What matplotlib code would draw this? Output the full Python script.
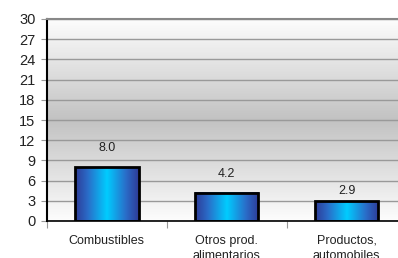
import numpy as np
import matplotlib
matplotlib.use("Agg")
import matplotlib.pyplot as plt
from matplotlib.colors import LinearSegmentedColormap
from matplotlib.patches import Rectangle

categories = ["Combustibles", "Otros prod.\nalimentarios", "Productos,\nautomobiles"]
values = [8.0, 4.2, 2.9]
yticks = [0, 3, 6, 9, 12, 15, 18, 21, 24, 27, 30]

plt.rcParams["font.family"] = ["Liberation Sans Narrow", "Liberation Sans", "DejaVu Sans"]

fig = plt.figure(figsize=(3.98, 2.58), dpi=100)
ax = fig.add_axes([46.7 / 398, 37 / 258, 360 / 398, 202 / 258])

# background: white -> gray -> white (vertical)
bg_cmap = LinearSegmentedColormap.from_list(
    "bg", [(0, "#fdfdfd"), (0.5, "#c2c2c2"), (1, "#fdfdfd")])
grad = np.linspace(1, 0, 256).reshape(-1, 1)
ax.imshow(grad, cmap=bg_cmap, aspect="auto", extent=[0, 1, 0, 1],
          transform=ax.transAxes, zorder=0)

ax.set_yticks(yticks)
ax.yaxis.grid(True, color="#999999", linewidth=1.0, zorder=1)
ax.set_axisbelow(True)

# bars with horizontal gradient
bar_cmap = LinearSegmentedColormap.from_list(
    "bar", [(0, "#2e3a96"), (0.2, "#2a6cc8"), (0.5, "#00ccff"), (0.8, "#2a6cc8"), (1, "#2e3a96")])
hgrad = np.linspace(0, 1, 256).reshape(1, -1)
width = 0.53
for i, v in enumerate(values):
    x0 = i + 1 - width / 2
    ax.imshow(hgrad, cmap=bar_cmap, aspect="auto",
              extent=[x0, x0 + width, 0, v], zorder=2)
    ax.add_patch(Rectangle((x0, 0), width, v, fill=False,
                           edgecolor="black", linewidth=2, zorder=3))
    # value labels sit a bit closer to the short bar, as in the source
    off = 2.8 if v > 3.5 else 1.5
    ax.text(i + 1, v + off, f"{v:.1f}", ha="center", va="center",
            fontsize=9, color="#222222", zorder=4)

ax.set_xlim(0.5, 3.5)
ax.set_ylim(0, 30)

ax.set_xticks([0.5, 1.5, 2.5])
ax.set_xticklabels([])
ax.set_xticks([1, 2, 3], minor=True)
ax.set_xticklabels(categories, minor=True, fontsize=9, color="#222222",
                   linespacing=1.3, va="top")
ax.tick_params(axis="x", which="major", length=5, color="#999999")
ax.tick_params(axis="x", which="minor", length=0, pad=10)
ax.tick_params(axis="y", length=4, color="#999999", labelsize=10.5,
               labelcolor="#222222", pad=4)

ax.spines["left"].set_color("black")
ax.spines["left"].set_linewidth(1.5)
ax.spines["bottom"].set_color("black")
ax.spines["bottom"].set_linewidth(1.2)
ax.spines["top"].set_color("#888888")
ax.spines["top"].set_linewidth(1.5)
ax.spines["right"].set_visible(False)

fig.savefig("out.png", dpi=100)
